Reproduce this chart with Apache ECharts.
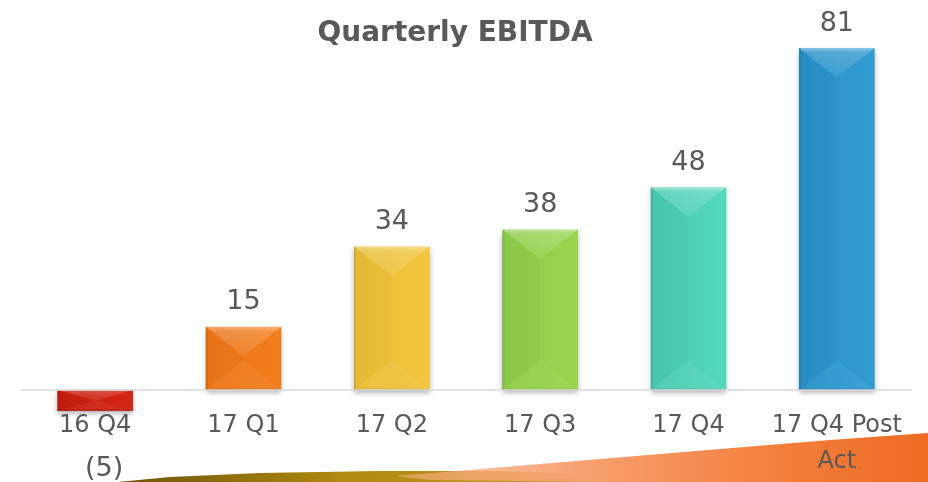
<!DOCTYPE html>
<html>
<head>
<meta charset="utf-8">
<script src="https://cdn.jsdelivr.net/npm/echarts@6/dist/echarts.min.js"></script>
<style>html,body{margin:0;padding:0;background:#fff}#c{width:928px;height:482px}</style>
</head>
<body>
<div id="c"></div>
<script>
var categories = ['16 Q4', '17 Q1', '17 Q2', '17 Q3', '17 Q4', '17 Q4 Post Act'];
var ebitda = [-5, 15, 34, 38, 48, 81];
var barColors = [
  ['#c61c0e', '#d42614'],
  ['#eb7418', '#f47e1c'],
  ['#e8bc34', '#f2c63c'],
  ['#8ccc46', '#98d64e'],
  ['#48caae', '#54d8bc'],
  ['#2690c8', '#329cd2']
];

var chart = echarts.init(document.getElementById('c'), null, {renderer: 'canvas'});
var FONT = 'DejaVu Sans';
var TXT = '#595959';
var BW = 0.51;

function grad(c) {
  return new echarts.graphic.LinearGradient(0, 0, 1, 0, [
    {offset: 0, color: c[0]}, {offset: 1, color: c[1]}
  ]);
}

var barData = ebitda.map(function (v, i) {
  var item = {value: v, itemStyle: {color: grad(barColors[i])}};
  if (v < 0) {
    item.label = {
      position: 'bottom', distance: 44, offset: [9, 0],
      formatter: function (p) { return '(' + Math.abs(p.value) + ')'; }
    };
  }
  return item;
});

var bevelData = ebitda.map(function (v, i) { return [i, v]; });

function renderBevel(params, api) {
  var i = api.value(0), v = api.value(1);
  var a = api.coord([i, 0]), b = api.coord([i, v]);
  var w = api.size([1, 0])[0] * BW;
  var x0 = a[0] - w / 2, x1 = a[0] + w / 2, xc = a[0];
  var yt = Math.min(a[1], b[1]), yb = Math.max(a[1], b[1]);
  var h = yb - yt;
  var d = Math.min(w * 0.39, h / 2);
  var ym1 = yt + d, ym2 = yb - d;
  return {
    type: 'group',
    silent: true,
    children: [
      {type: 'polygon', shape: {points: [[x0, yt], [x0, yb], [xc, ym2], [xc, ym1]]},
        style: {fill: 'rgba(0,0,0,0.015)'}},
      {type: 'polygon', shape: {points: [[x0, yt], [x1, yt], [xc, ym1]]},
        style: {fill: new echarts.graphic.LinearGradient(0, 0, 0, 1, [
          {offset: 0, color: 'rgba(255,255,255,0.45)'},
          {offset: 0.15, color: 'rgba(255,255,255,0.18)'},
          {offset: 1, color: 'rgba(255,255,255,0.08)'}
        ])}},
      {type: 'polygon', shape: {points: [[x0, yb], [x1, yb], [xc, ym2]]},
        style: {fill: 'rgba(255,255,255,0.05)'}},
      {type: 'rect', shape: {x: x0, y: yt, width: 2, height: h},
        style: {fill: 'rgba(0,0,0,0.08)'}},
      {type: 'rect', shape: {x: x0, y: yb - 1.5, width: w, height: 1.5},
        style: {fill: 'rgba(0,0,0,0.1)'}}
    ]
  };
}

var option = {
  backgroundColor: '#ffffff',
  animation: false,
  title: {
    text: 'Quarterly EBITDA',
    left: 450, top: 15, textAlign: 'center',
    textStyle: {fontFamily: FONT, fontSize: 28, fontWeight: 'bold', color: TXT}
  },
  graphic: [
    {
      type: 'polygon', z: -1, silent: true,
      shape: {points: [[118, 482], [170, 477], [260, 473], [380, 471], [500, 471], [600, 474], [660, 479], [680, 482]]},
      style: {fill: new echarts.graphic.LinearGradient(0, 0, 1, 0, [
        {offset: 0, color: '#6e5208'}, {offset: 0.4, color: '#b08a10'}, {offset: 1, color: '#c89a20'}
      ])}
    },
    {
      type: 'polygon', z: -1, silent: true,
      shape: {points: [[395, 476], [480, 469], [600, 459], [720, 449], [830, 440], [928, 433], [928, 482], [600, 482], [430, 480]]},
      style: {fill: new echarts.graphic.LinearGradient(0, 0, 1, 0, [
        {offset: 0, color: 'rgba(248,176,128,0.6)'}, {offset: 0.35, color: '#f7a070'},
        {offset: 0.7, color: '#f3813d'}, {offset: 1, color: '#ee6a22'}
      ])}
    }
  ],
  grid: {left: 21, right: 17, top: 10, bottom: 49.8, outerBoundsMode: 'none', containLabel: false},
  xAxis: {
    type: 'category',
    data: categories,
    axisLine: {show: true, onZero: true, lineStyle: {color: '#d9d9d9', width: 1.5}},
    axisTick: {show: false},
    axisLabel: {
      interval: 0, margin: -24, color: TXT, fontFamily: FONT, fontSize: 24, lineHeight: 36,
      formatter: function (s) { return s.replace(' Act', '\nAct'); }
    },
    z: 5
  },
  yAxis: {
    type: 'value', min: -10, max: 90, show: false,
    splitLine: {show: false}
  },
  series: [
    {
      type: 'bar',
      data: barData,
      barWidth: '51%',
      itemStyle: {shadowBlur: 5, shadowOffsetY: 3, shadowColor: 'rgba(0,0,0,0.3)'},
      label: {
        show: true, position: 'top', distance: 11,
        color: TXT, fontFamily: FONT, fontSize: 27
      },
      z: 2
    },
    {
      type: 'custom',
      data: bevelData,
      renderItem: renderBevel,
      silent: true,
      z: 3
    }
  ]
};
chart.setOption(option);
</script>
</body>
</html>
